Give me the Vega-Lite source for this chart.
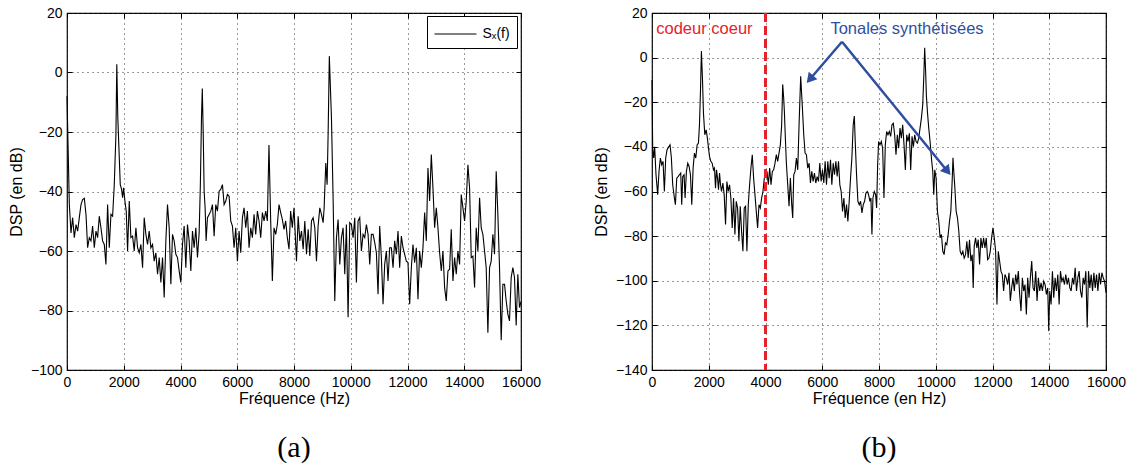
{
  "$schema": "https://vega.github.io/schema/vega-lite/v6.json",
  "background": "white",
  "padding": {"left": 7, "top": 5, "right": 0, "bottom": 5},
  "spacing": 131,
  "bounds": "flush",
  "resolve": {"legend": {"color": "independent"}, "scale": {"color": "independent"}},
  "config": {
    "font": "Liberation Sans",
    "view": {"stroke": "#000", "strokeWidth": 1.2},
    "axis": {
      "labelFont": "Liberation Sans", "labelFontSize": 14, "labelColor": "#000", "labelOverlap": false, "labelFlush": false,
      "titleFont": "Liberation Sans", "titleFontSize": 16, "titleFontWeight": "normal", "titleColor": "#000",
      "grid": true, "gridColor": "#333", "gridDash": [1, 4], "gridWidth": 1,
      "domain": false, "ticks": false, "labelPadding": 5, "tickColor": "#000", "tickWidth": 1
    },
    "title": {"font": "Liberation Serif", "fontSize": 30, "fontWeight": "normal", "color": "#000"}
  },
  "datasets": {
    "a": [{"f":0,"dB":-8},{"f":82,"dB":-44.4},{"f":141,"dB":-53.9},{"f":199,"dB":-48.8},{"f":258,"dB":-55.5},{"f":317,"dB":-51.1},{"f":375,"dB":-53.3},{"f":434,"dB":-48.8},{"f":493,"dB":-44.4},{"f":551,"dB":-42.7},{"f":610,"dB":-42.3},{"f":669,"dB":-47.7},{"f":727,"dB":-58.9},{"f":786,"dB":-55.5},{"f":845,"dB":-56.6},{"f":903,"dB":-51.6},{"f":962,"dB":-58.9},{"f":1021,"dB":-53.3},{"f":1079,"dB":-55.5},{"f":1138,"dB":-48.3},{"f":1196,"dB":-52.2},{"f":1255,"dB":-56.6},{"f":1314,"dB":-57.8},{"f":1372,"dB":-64.5},{"f":1431,"dB":-44.4},{"f":1490,"dB":-58.9},{"f":1548,"dB":-47.7},{"f":1607,"dB":-48.3},{"f":1666,"dB":-37.7},{"f":1724,"dB":-20.9},{"f":1755,"dB":2.8},{"f":1790,"dB":-15},{"f":1877,"dB":-37.7},{"f":1924,"dB":-39.3},{"f":1959,"dB":-42.1},{"f":1994,"dB":-38.8},{"f":2041,"dB":-43.2},{"f":2088,"dB":-46.6},{"f":2135,"dB":-60},{"f":2194,"dB":-43.2},{"f":2252,"dB":-55.5},{"f":2311,"dB":-55},{"f":2369,"dB":-60},{"f":2428,"dB":-52.2},{"f":2487,"dB":-58.9},{"f":2545,"dB":-60.6},{"f":2604,"dB":-57.8},{"f":2663,"dB":-65.6},{"f":2721,"dB":-48.8},{"f":2780,"dB":-54.4},{"f":2839,"dB":-57.8},{"f":2897,"dB":-53.3},{"f":2956,"dB":-58.9},{"f":3015,"dB":-57.8},{"f":3073,"dB":-63.4},{"f":3132,"dB":-60.6},{"f":3191,"dB":-67.8},{"f":3249,"dB":-62.2},{"f":3308,"dB":-70.6},{"f":3367,"dB":-62.2},{"f":3425,"dB":-75.6},{"f":3484,"dB":-56.6},{"f":3542,"dB":-44.4},{"f":3601,"dB":-52.2},{"f":3660,"dB":-71.2},{"f":3718,"dB":-54.4},{"f":3777,"dB":-56.6},{"f":3836,"dB":-61.1},{"f":3894,"dB":-62.2},{"f":3953,"dB":-66.7},{"f":4012,"dB":-70.6},{"f":4070,"dB":-57.8},{"f":4129,"dB":-51.6},{"f":4188,"dB":-65.6},{"f":4246,"dB":-51.1},{"f":4305,"dB":-56.6},{"f":4364,"dB":-66.7},{"f":4422,"dB":-53.3},{"f":4481,"dB":-58.9},{"f":4540,"dB":-52.2},{"f":4598,"dB":-62.2},{"f":4657,"dB":-53.9},{"f":4700,"dB":-37.7},{"f":4740,"dB":-15},{"f":4768,"dB":-5.4},{"f":4800,"dB":-20},{"f":4833,"dB":-39.9},{"f":4868,"dB":-45.5},{"f":4903,"dB":-56.6},{"f":4950,"dB":-48.8},{"f":5009,"dB":-47.7},{"f":5067,"dB":-46.6},{"f":5126,"dB":-44.4},{"f":5185,"dB":-55},{"f":5243,"dB":-44.4},{"f":5302,"dB":-46.6},{"f":5361,"dB":-39.9},{"f":5419,"dB":-39.3},{"f":5478,"dB":-37.7},{"f":5537,"dB":-44.4},{"f":5595,"dB":-43.2},{"f":5654,"dB":-41},{"f":5713,"dB":-41.6},{"f":5771,"dB":-49.9},{"f":5830,"dB":-51.6},{"f":5888,"dB":-58.9},{"f":5947,"dB":-52.2},{"f":6006,"dB":-63.4},{"f":6064,"dB":-53.3},{"f":6123,"dB":-60.6},{"f":6182,"dB":-48.8},{"f":6240,"dB":-45.5},{"f":6299,"dB":-52.2},{"f":6358,"dB":-46.6},{"f":6416,"dB":-58.9},{"f":6475,"dB":-52.2},{"f":6534,"dB":-55.5},{"f":6592,"dB":-47.7},{"f":6651,"dB":-54.4},{"f":6710,"dB":-46.6},{"f":6768,"dB":-49.9},{"f":6827,"dB":-55.5},{"f":6886,"dB":-47.1},{"f":6944,"dB":-49.9},{"f":7003,"dB":-46.6},{"f":7061,"dB":-49.9},{"f":7118,"dB":-24.4},{"f":7179,"dB":-49.9},{"f":7237,"dB":-70.1},{"f":7296,"dB":-52.2},{"f":7355,"dB":-54.4},{"f":7413,"dB":-51.1},{"f":7472,"dB":-44.4},{"f":7531,"dB":-47.1},{"f":7589,"dB":-49.4},{"f":7648,"dB":-52.7},{"f":7707,"dB":-49.9},{"f":7765,"dB":-55.5},{"f":7824,"dB":-59.4},{"f":7882,"dB":-46.6},{"f":7941,"dB":-52.2},{"f":8000,"dB":-45.5},{"f":8088,"dB":-63.4},{"f":8147,"dB":-48.3},{"f":8205,"dB":-56.6},{"f":8264,"dB":-53.3},{"f":8323,"dB":-59.4},{"f":8381,"dB":-49.9},{"f":8440,"dB":-61.1},{"f":8499,"dB":-52.7},{"f":8557,"dB":-61.7},{"f":8616,"dB":-49.9},{"f":8674,"dB":-48.8},{"f":8733,"dB":-52.2},{"f":8792,"dB":-63.4},{"f":8850,"dB":-51.6},{"f":8909,"dB":-45.5},{"f":8968,"dB":-47.7},{"f":9026,"dB":-50.5},{"f":9062,"dB":-45.5},{"f":9120,"dB":-30.4},{"f":9167,"dB":-37.7},{"f":9202,"dB":-20.9},{"f":9245,"dB":5.5},{"f":9320,"dB":-15.3},{"f":9378,"dB":-42.1},{"f":9437,"dB":-76.8},{"f":9496,"dB":-55.5},{"f":9554,"dB":-49.4},{"f":9613,"dB":-64.5},{"f":9672,"dB":-55.5},{"f":9730,"dB":-52.2},{"f":9789,"dB":-67.8},{"f":9847,"dB":-51.1},{"f":9906,"dB":-82.3},{"f":9965,"dB":-50.5},{"f":10023,"dB":-51.1},{"f":10082,"dB":-55.5},{"f":10141,"dB":-48.8},{"f":10199,"dB":-70.6},{"f":10258,"dB":-49.9},{"f":10317,"dB":-48.8},{"f":10375,"dB":-60},{"f":10434,"dB":-54.4},{"f":10493,"dB":-55.5},{"f":10551,"dB":-51.1},{"f":10610,"dB":-54.4},{"f":10669,"dB":-64.5},{"f":10727,"dB":-54.4},{"f":10786,"dB":-54.4},{"f":10845,"dB":-57.2},{"f":10903,"dB":-60.6},{"f":10962,"dB":-74.5},{"f":11020,"dB":-51.6},{"f":11079,"dB":-62.2},{"f":11138,"dB":-77.9},{"f":11196,"dB":-64.5},{"f":11255,"dB":-60},{"f":11314,"dB":-70.1},{"f":11372,"dB":-58.9},{"f":11431,"dB":-58.9},{"f":11490,"dB":-65.6},{"f":11548,"dB":-56.6},{"f":11607,"dB":-61.1},{"f":11666,"dB":-53.3},{"f":11724,"dB":-65.6},{"f":11783,"dB":-55},{"f":11841,"dB":-58.9},{"f":11900,"dB":-61.1},{"f":11959,"dB":-63.4},{"f":12017,"dB":-63.9},{"f":12076,"dB":-77.9},{"f":12135,"dB":-65.6},{"f":12193,"dB":-57.8},{"f":12252,"dB":-63.9},{"f":12311,"dB":-58.9},{"f":12369,"dB":-76.2},{"f":12428,"dB":-60},{"f":12487,"dB":-65.6},{"f":12545,"dB":-58.9},{"f":12604,"dB":-47.1},{"f":12663,"dB":-56.6},{"f":12721,"dB":-32.1},{"f":12780,"dB":-43.2},{"f":12839,"dB":-27.6},{"f":12897,"dB":-38.8},{"f":12956,"dB":-52.2},{"f":13015,"dB":-45.5},{"f":13073,"dB":-52.2},{"f":13132,"dB":-60.6},{"f":13191,"dB":-66.7},{"f":13249,"dB":-60},{"f":13308,"dB":-72.3},{"f":13366,"dB":-76.8},{"f":13425,"dB":-66.7},{"f":13484,"dB":-66.1},{"f":13542,"dB":-52.7},{"f":13601,"dB":-70.1},{"f":13660,"dB":-62.2},{"f":13718,"dB":-67.8},{"f":13777,"dB":-60},{"f":13836,"dB":-64.5},{"f":13894,"dB":-41},{"f":13953,"dB":-45.5},{"f":14012,"dB":-49.9},{"f":14070,"dB":-43.2},{"f":14129,"dB":-31},{"f":14188,"dB":-38.8},{"f":14246,"dB":-62.2},{"f":14305,"dB":-61.7},{"f":14364,"dB":-72.3},{"f":14422,"dB":-52.2},{"f":14481,"dB":-60},{"f":14540,"dB":-42.1},{"f":14598,"dB":-52.2},{"f":14657,"dB":-54.4},{"f":14716,"dB":-60},{"f":14774,"dB":-65.6},{"f":14833,"dB":-87.5},{"f":14892,"dB":-65.6},{"f":14950,"dB":-63.4},{"f":15009,"dB":-54.4},{"f":15068,"dB":-61.1},{"f":15126,"dB":-33.2},{"f":15185,"dB":-47.7},{"f":15243,"dB":-65.6},{"f":15302,"dB":-90},{"f":15361,"dB":-71.2},{"f":15420,"dB":-71.2},{"f":15478,"dB":-76.8},{"f":15537,"dB":-81.2},{"f":15595,"dB":-83.5},{"f":15654,"dB":-68.9},{"f":15713,"dB":-65.6},{"f":15771,"dB":-68.9},{"f":15830,"dB":-85},{"f":15889,"dB":-67.8},{"f":15947,"dB":-79},{"f":16000,"dB":-77}],
    "b": [{"f":0,"dB":-10},{"f":24,"dB":-40.6},{"f":59,"dB":-45},{"f":94,"dB":-40},{"f":141,"dB":-52.5},{"f":200,"dB":-61.4},{"f":247,"dB":-51},{"f":295,"dB":-45},{"f":342,"dB":-48},{"f":389,"dB":-46.5},{"f":436,"dB":-60},{"f":483,"dB":-45},{"f":530,"dB":-41.3},{"f":589,"dB":-40},{"f":636,"dB":-39.1},{"f":683,"dB":-45},{"f":730,"dB":-57},{"f":789,"dB":-62.9},{"f":825,"dB":-65.9},{"f":872,"dB":-54},{"f":919,"dB":-53.3},{"f":966,"dB":-52.5},{"f":1013,"dB":-51.7},{"f":1048,"dB":-65.9},{"f":1084,"dB":-53.3},{"f":1131,"dB":-52.5},{"f":1166,"dB":-62.9},{"f":1213,"dB":-51},{"f":1260,"dB":-47.3},{"f":1308,"dB":-48.8},{"f":1355,"dB":-52.5},{"f":1402,"dB":-65.9},{"f":1449,"dB":-49.5},{"f":1496,"dB":-42.8},{"f":1543,"dB":-45},{"f":1590,"dB":-39.1},{"f":1637,"dB":-38.3},{"f":1673,"dB":-30.1},{"f":1708,"dB":-15.2},{"f":1741,"dB":3},{"f":1780,"dB":-10},{"f":1814,"dB":-25},{"f":1861,"dB":-34.6},{"f":1908,"dB":-32.4},{"f":1944,"dB":-35.3},{"f":1979,"dB":-39.1},{"f":2026,"dB":-44.3},{"f":2073,"dB":-46.5},{"f":2120,"dB":-47.3},{"f":2167,"dB":-50.3},{"f":2203,"dB":-49.5},{"f":2238,"dB":-58.5},{"f":2273,"dB":-50.3},{"f":2309,"dB":-54},{"f":2344,"dB":-59.2},{"f":2380,"dB":-51.7},{"f":2415,"dB":-57},{"f":2450,"dB":-60},{"f":2497,"dB":-56.2},{"f":2544,"dB":-61.4},{"f":2592,"dB":-74.8},{"f":2639,"dB":-55.5},{"f":2686,"dB":-60},{"f":2733,"dB":-57},{"f":2780,"dB":-62.9},{"f":2827,"dB":-76.3},{"f":2874,"dB":-62.9},{"f":2922,"dB":-79.3},{"f":2969,"dB":-64.4},{"f":3016,"dB":-67.4},{"f":3063,"dB":-82.3},{"f":3110,"dB":-66.6},{"f":3157,"dB":-77.8},{"f":3204,"dB":-86.8},{"f":3251,"dB":-67.4},{"f":3298,"dB":-66.6},{"f":3345,"dB":-86.8},{"f":3393,"dB":-65.9},{"f":3440,"dB":-57},{"f":3487,"dB":-49.5},{"f":3534,"dB":-43.5},{"f":3581,"dB":-54},{"f":3628,"dB":-61.4},{"f":3675,"dB":-68.9},{"f":3722,"dB":-76.3},{"f":3770,"dB":-65.9},{"f":3817,"dB":-67.4},{"f":3864,"dB":-62.9},{"f":3911,"dB":-60},{"f":3958,"dB":-54},{"f":4005,"dB":-52.5},{"f":4052,"dB":-51},{"f":4099,"dB":-57},{"f":4147,"dB":-49.5},{"f":4194,"dB":-57},{"f":4241,"dB":-51},{"f":4288,"dB":-50.3},{"f":4335,"dB":-47.3},{"f":4382,"dB":-43.5},{"f":4429,"dB":-46.5},{"f":4476,"dB":-42.8},{"f":4523,"dB":-39.1},{"f":4570,"dB":-30.1},{"f":4606,"dB":-12},{"f":4640,"dB":-18},{"f":4665,"dB":-24},{"f":4700,"dB":-36.1},{"f":4736,"dB":-47.3},{"f":4783,"dB":-57},{"f":4830,"dB":-66.6},{"f":4877,"dB":-54},{"f":4924,"dB":-65.9},{"f":4959,"dB":-71.9},{"f":4995,"dB":-52.5},{"f":5042,"dB":-51},{"f":5089,"dB":-45},{"f":5136,"dB":-50.3},{"f":5183,"dB":-30.1},{"f":5240,"dB":-8.4},{"f":5301,"dB":-22.7},{"f":5348,"dB":-34.6},{"f":5395,"dB":-42.8},{"f":5442,"dB":-43.5},{"f":5489,"dB":-49.5},{"f":5537,"dB":-47.3},{"f":5584,"dB":-56.2},{"f":5631,"dB":-51},{"f":5678,"dB":-55.5},{"f":5725,"dB":-51.7},{"f":5772,"dB":-56.2},{"f":5819,"dB":-53.3},{"f":5867,"dB":-55.5},{"f":5914,"dB":-47.3},{"f":5961,"dB":-55.5},{"f":6008,"dB":-50.3},{"f":6055,"dB":-56.2},{"f":6102,"dB":-46.5},{"f":6149,"dB":-57},{"f":6196,"dB":-46.5},{"f":6243,"dB":-54},{"f":6291,"dB":-45.8},{"f":6338,"dB":-57},{"f":6385,"dB":-47.3},{"f":6432,"dB":-52.5},{"f":6479,"dB":-46.5},{"f":6526,"dB":-53.3},{"f":6573,"dB":-46.5},{"f":6620,"dB":-57},{"f":6667,"dB":-60},{"f":6715,"dB":-68.9},{"f":6762,"dB":-62.9},{"f":6809,"dB":-71.9},{"f":6856,"dB":-65.9},{"f":6903,"dB":-73.4},{"f":6950,"dB":-64.4},{"f":6997,"dB":-54},{"f":7044,"dB":-45},{"f":7091,"dB":-30.1},{"f":7130,"dB":-26.2},{"f":7162,"dB":-37.6},{"f":7209,"dB":-52.5},{"f":7256,"dB":-64.4},{"f":7304,"dB":-65.9},{"f":7351,"dB":-64.4},{"f":7398,"dB":-69.6},{"f":7445,"dB":-65.9},{"f":7492,"dB":-64.4},{"f":7539,"dB":-60.7},{"f":7586,"dB":-60},{"f":7633,"dB":-61.4},{"f":7680,"dB":-64.4},{"f":7716,"dB":-62.9},{"f":7751,"dB":-79.3},{"f":7786,"dB":-62.9},{"f":7834,"dB":-60},{"f":7881,"dB":-61.4},{"f":7916,"dB":-67.4},{"f":7952,"dB":-48},{"f":7987,"dB":-37.6},{"f":8034,"dB":-39.1},{"f":8081,"dB":-37.6},{"f":8128,"dB":-40.6},{"f":8175,"dB":-62.9},{"f":8222,"dB":-39.1},{"f":8269,"dB":-33.1},{"f":8316,"dB":-34.6},{"f":8364,"dB":-33.1},{"f":8411,"dB":-35.3},{"f":8458,"dB":-30.1},{"f":8505,"dB":-29.4},{"f":8552,"dB":-34.6},{"f":8599,"dB":-43.5},{"f":8646,"dB":-34.6},{"f":8693,"dB":-40.6},{"f":8740,"dB":-31.6},{"f":8788,"dB":-36.1},{"f":8835,"dB":-30.1},{"f":8882,"dB":-39.1},{"f":8929,"dB":-50.3},{"f":8976,"dB":-34.6},{"f":9023,"dB":-37.6},{"f":9070,"dB":-33.9},{"f":9117,"dB":-50.3},{"f":9164,"dB":-35.3},{"f":9211,"dB":-39.9},{"f":9259,"dB":-34.6},{"f":9306,"dB":-37.6},{"f":9353,"dB":-38.3},{"f":9400,"dB":-36.1},{"f":9447,"dB":-31.6},{"f":9494,"dB":-27.1},{"f":9541,"dB":-21.2},{"f":9580,"dB":-8},{"f":9610,"dB":4.4},{"f":9640,"dB":-5},{"f":9670,"dB":-17},{"f":9706,"dB":-24.2},{"f":9753,"dB":-31.6},{"f":9800,"dB":-37.6},{"f":9847,"dB":-45},{"f":9895,"dB":-51},{"f":9930,"dB":-61.4},{"f":9965,"dB":-50.3},{"f":10012,"dB":-54},{"f":10060,"dB":-68.9},{"f":10107,"dB":-73.4},{"f":10154,"dB":-80.8},{"f":10201,"dB":-79.3},{"f":10248,"dB":-86.8},{"f":10295,"dB":-88.3},{"f":10342,"dB":-83},{"f":10389,"dB":-83.8},{"f":10437,"dB":-79.3},{"f":10484,"dB":-73.4},{"f":10531,"dB":-68.9},{"f":10578,"dB":-55.5},{"f":10607,"dB":-44.9},{"f":10640,"dB":-52},{"f":10672,"dB":-58},{"f":10719,"dB":-68.9},{"f":10766,"dB":-71.9},{"f":10813,"dB":-77.8},{"f":10860,"dB":-86.8},{"f":10908,"dB":-88.3},{"f":10955,"dB":-86.8},{"f":11002,"dB":-89.8},{"f":11049,"dB":-88.3},{"f":11096,"dB":-82.3},{"f":11143,"dB":-89.8},{"f":11190,"dB":-81.6},{"f":11238,"dB":-91.2},{"f":11285,"dB":-88.3},{"f":11320,"dB":-103.2},{"f":11356,"dB":-84.5},{"f":11403,"dB":-80.8},{"f":11450,"dB":-85.3},{"f":11497,"dB":-81.6},{"f":11544,"dB":-92.7},{"f":11591,"dB":-80.8},{"f":11638,"dB":-85.3},{"f":11686,"dB":-80.8},{"f":11733,"dB":-85.3},{"f":11780,"dB":-80.8},{"f":11827,"dB":-90.5},{"f":11874,"dB":-89.8},{"f":11921,"dB":-86.8},{"f":11968,"dB":-80.8},{"f":12016,"dB":-76.3},{"f":12063,"dB":-80.8},{"f":12110,"dB":-86.8},{"f":12157,"dB":-110.6},{"f":12204,"dB":-86.8},{"f":12251,"dB":-91.2},{"f":12298,"dB":-95.7},{"f":12345,"dB":-97.2},{"f":12392,"dB":-104.6},{"f":12439,"dB":-97.2},{"f":12486,"dB":-98.7},{"f":12534,"dB":-101.7},{"f":12581,"dB":-96.4},{"f":12628,"dB":-109.1},{"f":12675,"dB":-103.2},{"f":12722,"dB":-98.7},{"f":12769,"dB":-104.6},{"f":12816,"dB":-97.2},{"f":12863,"dB":-101.7},{"f":12910,"dB":-95.7},{"f":12957,"dB":-106.1},{"f":13005,"dB":-113.6},{"f":13052,"dB":-98.7},{"f":13099,"dB":-104.6},{"f":13146,"dB":-101.7},{"f":13193,"dB":-115.1},{"f":13240,"dB":-98.7},{"f":13287,"dB":-107.6},{"f":13334,"dB":-98.7},{"f":13382,"dB":-91.2},{"f":13429,"dB":-103.2},{"f":13476,"dB":-104.6},{"f":13523,"dB":-95.7},{"f":13570,"dB":-109.1},{"f":13617,"dB":-98.7},{"f":13664,"dB":-104.6},{"f":13711,"dB":-100.9},{"f":13758,"dB":-104.6},{"f":13806,"dB":-100.2},{"f":13853,"dB":-101.7},{"f":13900,"dB":-106.1},{"f":13947,"dB":-103.2},{"f":13982,"dB":-122.5},{"f":14018,"dB":-104.6},{"f":14065,"dB":-110.6},{"f":14112,"dB":-95.7},{"f":14159,"dB":-107.6},{"f":14206,"dB":-98.7},{"f":14253,"dB":-104.6},{"f":14301,"dB":-97.2},{"f":14348,"dB":-110.6},{"f":14395,"dB":-95.7},{"f":14442,"dB":-100.2},{"f":14489,"dB":-98.7},{"f":14536,"dB":-101.7},{"f":14583,"dB":-97.2},{"f":14630,"dB":-101.7},{"f":14677,"dB":-98.7},{"f":14725,"dB":-103.2},{"f":14772,"dB":-104.6},{"f":14819,"dB":-98.7},{"f":14866,"dB":-101.7},{"f":14913,"dB":-94.2},{"f":14960,"dB":-104.6},{"f":15007,"dB":-98.7},{"f":15054,"dB":-95.7},{"f":15101,"dB":-104.6},{"f":15149,"dB":-107.6},{"f":15196,"dB":-98.7},{"f":15243,"dB":-101.7},{"f":15290,"dB":-95.7},{"f":15337,"dB":-121},{"f":15384,"dB":-95.7},{"f":15431,"dB":-103.2},{"f":15478,"dB":-97.2},{"f":15525,"dB":-104.6},{"f":15573,"dB":-96.4},{"f":15620,"dB":-103.2},{"f":15667,"dB":-97.2},{"f":15714,"dB":-104.6},{"f":15761,"dB":-96.4},{"f":15808,"dB":-101.7},{"f":15855,"dB":-96.4},{"f":15902,"dB":-98.7},{"f":15949,"dB":-100.2},{"f":16000,"dB":-105.4}],
    "arrows": [{"id":1,"f":6696,"dB":7.1,"f2":5564,"dB2":-9.7},{"id":2,"f":6696,"dB":7.1,"f2":10413,"dB2":-50.9}],
    "notes": [{"f":4000}]
  },
  "hconcat": [
    {
      "width": 454,
      "height": 357,
      "title": {"text": "(a)", "orient": "bottom", "anchor": "middle", "offset": 27},
      "resolve": {"axis": {"x": "independent", "y": "independent"}},
      "layer": [
        {
          "data": {"name": "a"},
          "mark": {"type": "line", "strokeWidth": 1.1},
          "encoding": {
            "x": {"field": "f", "type": "quantitative", "scale": {"domain": [0, 16000], "nice": false, "zero": false},
                  "axis": {"values": [0,2000,4000,6000,8000,10000,12000,14000,16000], "format": "d", "title": "Fréquence (Hz)", "titlePadding": 1}},
            "y": {"field": "dB", "type": "quantitative", "scale": {"domain": [-100, 20], "nice": false, "zero": false},
                  "axis": {"values": [-100,-80,-60,-40,-20,0,20], "format": "d", "title": "DSP (en dB)", "titlePadding": 6}},
            "color": {"datum": "Sₓ(f)", "scale": {"range": ["#000"]},
                      "legend": {"title": null, "orient": "none", "legendX": 360, "legendY": 3, "padding": 7, "strokeColor": "#000", "fillColor": "#fff",
                                 "symbolType": "M-2,0L2,0", "symbolSize": 441, "symbolOffset": 10.5, "symbolStrokeWidth": 1, "labelFontSize": 14, "labelFont": "Liberation Sans", "labelColor": "#000", "labelOffset": 16}}
          }
        },
        {
          "data": {"name": "a"},
          "mark": {"type": "line", "strokeOpacity": 0},
          "encoding": {
            "x": {"field": "f", "type": "quantitative", "axis": {"orient": "bottom", "values": [0,2000,4000,6000,8000,10000,12000,14000,16000], "labels": false, "grid": false, "ticks": true, "tickSize": 5, "offset": -5, "title": null}},
            "y": {"field": "dB", "type": "quantitative", "axis": {"orient": "left", "values": [-100,-80,-60,-40,-20,0,20], "labels": false, "grid": false, "ticks": true, "tickSize": 5, "offset": -5, "title": null}}
          }
        },
        {
          "data": {"name": "a"},
          "mark": {"type": "line", "strokeOpacity": 0},
          "encoding": {
            "x": {"field": "f", "type": "quantitative", "axis": {"orient": "top", "values": [0,2000,4000,6000,8000,10000,12000,14000,16000], "labels": false, "grid": false, "ticks": true, "tickSize": 5, "offset": -5, "title": null}},
            "y": {"field": "dB", "type": "quantitative", "axis": {"orient": "right", "values": [-100,-80,-60,-40,-20,0,20], "labels": false, "grid": false, "ticks": true, "tickSize": 5, "offset": -5, "title": null}}
          }
        }
      ]
    },
    {
      "width": 454,
      "height": 357,
      "title": {"text": "(b)", "orient": "bottom", "anchor": "middle", "offset": 27},
      "resolve": {"axis": {"x": "independent", "y": "independent"}},
      "layer": [
        {
          "layer": [
            {
              "data": {"name": "b"},
              "mark": {"type": "line", "strokeWidth": 1.1, "color": "#000"},
              "encoding": {
                "x": {"field": "f", "type": "quantitative", "scale": {"domain": [0, 16000], "nice": false, "zero": false},
                      "axis": {"values": [0,2000,4000,6000,8000,10000,12000,14000,16000], "format": "d", "title": "Fréquence (en Hz)", "titlePadding": 1}},
                "y": {"field": "dB", "type": "quantitative", "scale": {"domain": [-140, 20], "nice": false, "zero": false},
                      "axis": {"values": [-140,-120,-100,-80,-60,-40,-20,0,20], "format": "d", "title": "DSP (en dB)", "titlePadding": 6}}
              }
            },
            {
              "data": {"name": "notes"},
              "mark": {"type": "rule", "color": "#e8202a", "strokeWidth": 3, "strokeDash": [9, 4]},
              "encoding": {"x": {"field": "f", "type": "quantitative"}}
            },
            {
              "data": {"name": "notes"},
              "mark": {"type": "text", "text": "codeur coeur", "align": "left", "baseline": "middle", "color": "#e8202a", "fontSize": 16.5, "font": "Liberation Sans"},
              "encoding": {"x": {"datum": 150}, "y": {"datum": 12.8}}
            },
            {
              "data": {"name": "notes"},
              "mark": {"type": "text", "text": "Tonales synthétisées", "align": "center", "baseline": "middle", "color": "#2e4f9f", "fontSize": 16.5, "font": "Liberation Sans"},
              "encoding": {"x": {"datum": 8986}, "y": {"datum": 12.8}}
            },
            {
              "data": {"name": "arrows"},
              "mark": {"type": "rule", "color": "#2e4f9f", "strokeWidth": 2.5},
              "encoding": {
                "x": {"field": "f", "type": "quantitative"}, "y": {"field": "dB", "type": "quantitative"},
                "x2": {"field": "f2"}, "y2": {"field": "dB2"}
              }
            },
            {
              "data": {"name": "arrows"},
              "transform": [{"filter": "datum.id == 1"}],
              "mark": {"type": "point", "shape": "triangle-up", "filled": true, "size": 130, "angle": 220, "color": "#2e4f9f", "opacity": 1},
              "encoding": {"x": {"field": "f2", "type": "quantitative"}, "y": {"field": "dB2", "type": "quantitative"}}
            },
            {
              "data": {"name": "arrows"},
              "transform": [{"filter": "datum.id == 2"}],
              "mark": {"type": "point", "shape": "triangle-up", "filled": true, "size": 130, "angle": 141, "color": "#2e4f9f", "opacity": 1},
              "encoding": {"x": {"field": "f2", "type": "quantitative"}, "y": {"field": "dB2", "type": "quantitative"}}
            }
          ]
        },
        {
          "data": {"name": "b"},
          "mark": {"type": "line", "strokeOpacity": 0},
          "encoding": {
            "x": {"field": "f", "type": "quantitative", "axis": {"orient": "bottom", "values": [0,2000,4000,6000,8000,10000,12000,14000,16000], "labels": false, "grid": false, "ticks": true, "tickSize": 5, "offset": -5, "title": null}},
            "y": {"field": "dB", "type": "quantitative", "axis": {"orient": "left", "values": [-140,-120,-100,-80,-60,-40,-20,0,20], "labels": false, "grid": false, "ticks": true, "tickSize": 5, "offset": -5, "title": null}}
          }
        },
        {
          "data": {"name": "b"},
          "mark": {"type": "line", "strokeOpacity": 0},
          "encoding": {
            "x": {"field": "f", "type": "quantitative", "axis": {"orient": "top", "values": [0,2000,4000,6000,8000,10000,12000,14000,16000], "labels": false, "grid": false, "ticks": true, "tickSize": 5, "offset": -5, "title": null}},
            "y": {"field": "dB", "type": "quantitative", "axis": {"orient": "right", "values": [-140,-120,-100,-80,-60,-40,-20,0,20], "labels": false, "grid": false, "ticks": true, "tickSize": 5, "offset": -5, "title": null}}
          }
        }
      ]
    }
  ]
}
